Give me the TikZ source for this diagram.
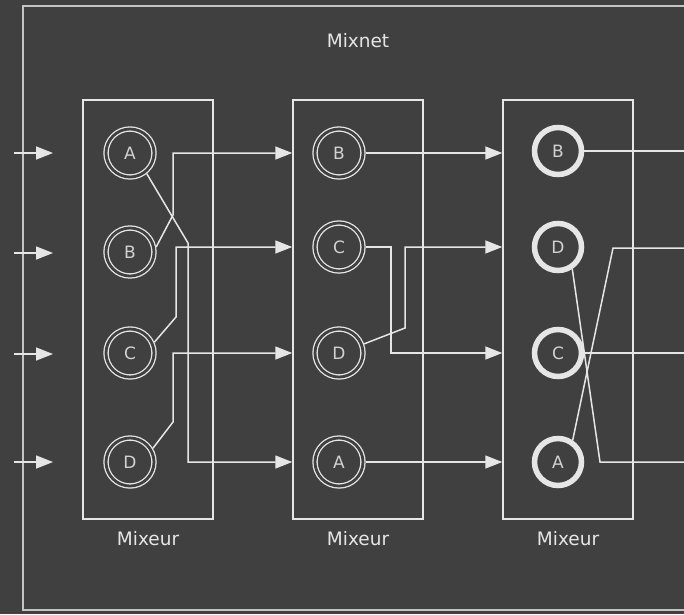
\documentclass[tikz,border=0pt]{standalone}
\usepackage{fontspec}
\setmainfont{DejaVu Sans}
\usetikzlibrary{arrows.meta}
\definecolor{bg}{HTML}{404040}
\definecolor{wire}{HTML}{E6E6E6}
\definecolor{framecol}{HTML}{C4C4C4}
\definecolor{ink}{HTML}{D2D2D2}

\begin{document}
\begin{tikzpicture}[x=1pt,y=-1pt,
  wire/.style={draw=wire, line width=1.5pt},
  arr/.style={wire, -{Triangle[length=17pt,width=13pt]}},
  mixbox/.style={draw=wire, line width=1.5pt, minimum width=130pt,
    minimum height=419pt, inner sep=0pt},
  letter/.style={text=ink, font=\fontsize{17}{17}\selectfont},
  dring/.style={circle, draw=wire, line width=1.3pt, double=bg,
    double distance=2.8pt, minimum size=48pt, inner sep=0pt,
    outer sep=2.7pt, letter},
  tring/.style={circle, draw=wire, line width=5.5pt, minimum size=47pt,
    inner sep=0pt, outer sep=2.75pt, letter},
  lbl/.style={text=wire, font=\fontsize{18.5}{18.5}\selectfont},
]
% canvas
\fill[bg] (0,0) rectangle (684,614);
\useasboundingbox (0,0) rectangle (684,614);

% mixnet frame (open to the right)
\draw[framecol, line width=2.6pt] (700,6) -- (23,6) -- (23,610) -- (700,610);
\node[lbl] (mixnet) at (358,41) {Mixnet};

% the three mixers
\node[mixbox] (m1) at (148,309.5) {};
\node[mixbox] (m2) at (358,309.5) {};
\node[mixbox] (m3) at (568,309.5) {};
\node[lbl] (l1) at (148,539) {Mixeur};
\node[lbl] (l2) at (358,539) {Mixeur};
\node[lbl] (l3) at (568,539) {Mixeur};

% messages in mixer 1
\node[dring] (a1) at (130,153) {A};
\node[dring] (b1) at (130,252) {B};
\node[dring] (c1) at (130,353) {C};
\node[dring] (d1) at (130,462) {D};
% messages in mixer 2
\node[dring] (b2) at (339,153) {B};
\node[dring] (c2) at (339,247) {C};
\node[dring] (d2) at (339,353) {D};
\node[dring] (a2) at (339,462) {A};
% messages in mixer 3
\node[tring] (b3) at (558,151) {B};
\node[tring] (d3) at (558,247) {D};
\node[tring] (c3) at (558,353) {C};
\node[tring] (a3) at (558,462) {A};

% incoming messages
\foreach \y [count=\i] in {153,253,354,462}{
  \coordinate (in\i) at (14,\y);
  \coordinate (ie\i) at (53,\y);
  \draw[arr] (in\i) -- (ie\i);
}

% mixer 1 -> mixer 2
\draw[arr] (a1.-51) -- (188,243) |- (m2.west |- a2);
\draw[arr] (b1.11) -- (173,215) |- (m2.west |- b2);
\draw[arr] (c1.24) -- (176,317) |- (m2.west |- c2);
\draw[arr] (d1.31) -- (173,422) |- (m2.west |- d2);

% mixer 2 -> mixer 3
\draw[arr] (b2) -- (m3.west |- b2);
\draw[arr] (c2) -- (391,247) |- (m3.west |- c3);
\draw[arr] (d2.20) -- (405,328) |- (m3.west |- d3);
\draw[arr] (a2) -- (m3.west |- a2);

% mixer 3 outputs
\coordinate (o1) at (684,151);
\coordinate (o2) at (684,248);
\coordinate (o3) at (684,353);
\coordinate (o4) at (684,462);
\draw[wire] (b3) -- (o1);
\draw[wire] (d3.-57) -- (600,462) -- (o4);
\draw[wire] (c3) -- (o3);
\draw[wire] (a3.56) -- (613,248) -- (o2);
\end{tikzpicture}
\end{document}
